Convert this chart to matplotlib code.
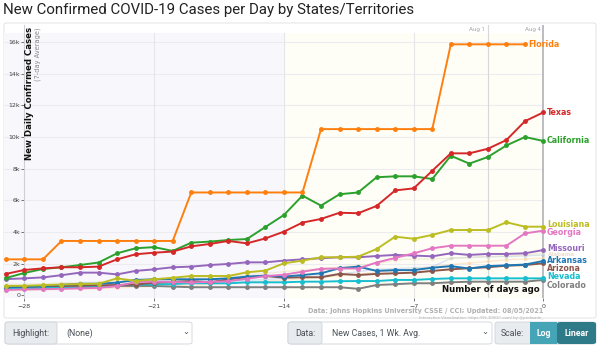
import numpy as np
import matplotlib.pyplot as plt
from matplotlib.patches import FancyBboxPatch, Rectangle

# days ago, -29 .. 0
days = list(range(-29, 1))

florida = [2280, 2280, 2280, 3440, 3440, 3440, 3440, 3440, 3440, 3440,
           6500, 6500, 6500, 6500, 6500, 6500, 6500, 10500, 10500, 10500,
           10500, 10500, 10500, 10500, 15850, 15850, 15850, 15850, 15850, np.nan]
texas = [1360, 1610, 1710, 1780, 1780, 1820, 2280, 2600, 2700, 2770,
         3100, 3250, 3440, 3290, 3600, 4030, 4600, 4830, 5220, 5190,
         5650, 6630, 6760, 7870, 8970, 8970, 9260, 9810, 11000, 11560]
california = [1100, 1420, 1670, 1780, 1920, 2080, 2660, 2980, 3050, 2810,
              3330, 3400, 3500, 3560, 4320, 5080, 6300, 5670, 6390, 6500,
              7460, 7520, 7520, 7350, 8820, 8320, 8740, 9470, 10000, 9750]
louisiana = [600, 610, 650, 690, 720, 740, 1080, 920, 1020, 1120,
             1230, 1230, 1230, 1460, 1570, 2030, 2200, 2410, 2410, 2450,
             2930, 3710, 3580, 3820, 4130, 4130, 4130, 4620, 4340, 4340]
georgia = [350, 380, 400, 420, 450, 480, 600, 850, 870, 850,
           820, 860, 900, 1050, 1220, 1310, 1500, 1680, 1700, 1700,
           2080, 2370, 2660, 2980, 3140, 3140, 3140, 3140, 3920, 4090]
missouri = [1030, 1080, 1140, 1280, 1440, 1440, 1330, 1550, 1650, 1780,
            1820, 1920, 1990, 2090, 2090, 2200, 2280, 2350, 2410, 2410,
            2490, 2560, 2520, 2470, 2660, 2560, 2620, 2620, 2660, 2870]
arkansas = [520, 540, 600, 670, 740, 740, 810, 980, 1020, 1020,
            1020, 1020, 1080, 1190, 1250, 1190, 1290, 1400, 1720, 1820,
            1550, 1600, 1600, 1750, 1850, 1700, 1850, 1900, 1950, 2180]
arizona = [560, 560, 580, 600, 620, 640, 660, 690, 810, 860,
           910, 830, 1020, 1150, 1230, 1120, 1150, 1150, 1360, 1290,
           1360, 1400, 1440, 1550, 1650, 1720, 1780, 1880, 1920, 2030]
nevada = [420, 450, 470, 500, 520, 550, 650, 680, 700, 720,
          770, 770, 770, 830, 830, 830, 870, 870, 900, 910,
          910, 980, 980, 1040, 1080, 1080, 1080, 1080, 1080, 1080]
colorado = [450, 500, 500, 510, 510, 510, 600, 600, 600, 560,
            520, 520, 520, 520, 520, 520, 520, 520, 520, 420,
            660, 710, 770, 770, 830, 870, 870, 870, 870, 980]

# faded background states
alabama = [300, 320, 350, 380, 400, 420, 480, 520, 560, 600,
           650, 700, 760, 820, 900, 980, 1050, 1150, 1250, 1350,
           1450, 1550, 1650, 1800, 1950, 2050, 2150, 2250, 2300, 2350]
faint_blue = [450, 470, 500, 520, 560, 600, 650, 700, 750, 780,
              800, 850, 900, 950, 1000, 1100, 1150, 1250, 1350, 1500,
              1650, 1700, 1750, 1800, 2350, 2400, 2450, 2450, 2500, 2550]
faint_tan = [700, 720, 750, 800, 820, 850, 900, 950, 1000, 1050,
             1100, 1150, 1200, 1300, 1400, 1500, 1600, 1700, 1800, 1900,
             2000, 2250, 2300, 2300, 2350, 2400, 2450, 2500, 2550, 2650]

states = ["Florida", "Texas", "California", "Louisiana", "Georgia", "Missouri",
          "Arkansas", "Arizona", "Nevada", "Colorado"]
series = [florida, texas, california, louisiana, georgia, missouri,
          arkansas, arizona, nevada, colorado]
colors = ["#ff7f0e", "#d62728", "#2ca02c", "#bcbd22", "#e377c2", "#9467bd",
          "#1f77b4", "#8c564b", "#17becf", "#7f7f7f"]
# where the end labels sit (nudged apart like the original)
label_y = [15850, 11560, 9800, 4460, 3980, 2940, 2230, 1700, 1180, 650]

fig = plt.figure(figsize=(6, 3.47), dpi=100)
W, H = 600, 347

def fx(px):
    return px / W

def fy(py):
    return 1 - py / H

# card border (behind the axes)
fig.patches.append(FancyBboxPatch((fx(4), fy(318)), fx(592), 295 / H,
                                  boxstyle="round,pad=0,rounding_size=0.005",
                                  transform=fig.transFigure, fc="white",
                                  ec="#e6e6e6", lw=0.8, zorder=-5))

fig.text(fx(3), fy(10), "New Confirmed COVID-19 Cases per Day by States/Territories",
         fontsize=10.8, family="Roboto", color="#222222", va="center", ha="left")

ax = fig.add_axes([fx(4), fy(298), fx(539.5), (298 - 25) / H])
ax.set_zorder(2)
ax.set_xlim(-29.1, 0)
ax.set_ylim(-160, 17070)
ax.set_facecolor("none")

# backgrounds: older part bluish, last two weeks yellowish
top_frac = (298 - 33) / 273
ax.axvspan(-29.1, -14, ymin=0, ymax=top_frac, color="#f8f8fc", zorder=0, lw=0)
ax.axvspan(-14, 0, ymin=0, ymax=top_frac, color="#fefef6", zorder=0, lw=0)

for yv in range(2000, 17000, 2000):
    ax.axhline(yv, color="#ececf0", lw=0.8, zorder=1)
for xv in [-21, -14, -7]:
    ax.axvline(xv, ymax=top_frac, color="#e6e6ea", lw=0.8, zorder=1)
ax.axvline(-3, color="#d8d8d8", lw=0.8, zorder=1)
ax.axvline(0, color="#b0b0b8", lw=1.2, zorder=1)
ax.text(-3.15, 16800, "Aug 1", fontsize=4.5, color="#aaaaaa", ha="right", va="center",
        family="Roboto")
ax.text(-0.15, 16800, "Aug 4", fontsize=4.5, color="#aaaaaa", ha="right", va="center",
        family="Roboto")

# faded lines
for vals, c in [(faint_blue, "#aec7e8"), (faint_tan, "#e7dcb8"), (alabama, "#ffcfa0")]:
    ax.plot(days, vals, color=c, lw=1.0, marker="o", ms=1.6, alpha=0.45, zorder=2,
            clip_on=False)
ax.annotate("Alabama", xy=(0, 2580), xytext=(3, 0), textcoords="offset points",
            fontsize=4.0, color="#f0dccf", fontweight="bold", va="center",
            annotation_clip=False)

order = list(range(len(states)))[::-1]
for i in order:
    ax.plot(days, series[i], color=colors[i], lw=1.4, marker="o", ms=2.5,
            zorder=3 + (len(states) - i) * 0.01, clip_on=False)

for name, vals, c, ly in zip(states, series, colors, label_y):
    last = max(d for d, v in zip(days, vals) if not np.isnan(v))
    ax.annotate(name, xy=(last, ly), xytext=(2.5, 0), textcoords="offset points",
                fontsize=5.7, color=c, fontweight="bold", va="center",
                annotation_clip=False)

ax.text(-0.2, 350, "Number of days ago", fontsize=6.2, fontweight="bold",
        color="#111111", ha="right", va="center")

# y label, drawn inside
ax.text(-27.75, 16950, "New Daily Confirmed Cases", rotation=90, fontsize=6.2,
        fontweight="bold", color="#111111", ha="center", va="top")
ax.text(-27.3, 16950, "(7-day Average)", rotation=90, fontsize=4.8,
        color="#888888", ha="center", va="top")

ax.set_yticks(range(0, 17000, 2000))
ax.set_yticklabels(["0"] + ["%dk" % (v // 1000) for v in range(2000, 17000, 2000)])
ax.set_xticks([-28, -21, -14, -7, 0])
ax.tick_params(axis="both", labelsize=4.5, colors="#444444", length=2, width=0.5)
ax.tick_params(axis="y", pad=1)
ax.tick_params(axis="x", pad=2)
ax.spines["left"].set_position(("data", -28))
ax.spines["left"].set_color("#cfcfd6")
for s in ["top", "right", "bottom"]:
    ax.spines[s].set_visible(False)
ax.grid(False)

fig.text(fx(543), fy(311), "Data: Johns Hopkins University CSSE / CCI; Updated: 08/05/2021",
         fontsize=4.7, color="#b0b0b0", fontweight="bold", ha="right", va="center")
fig.text(fx(543), fy(318), "Interactive Visualization: https://91-DIVOC.com/ by @profwade_",
         fontsize=2.8, color="#b0b0b0", ha="right", va="center")

# bottom controls
def box(x0, x1, y0, y1, fc, ec="#ced4da"):
    fig.patches.append(FancyBboxPatch((fx(x0), fy(y1)), fx(x1 - x0), (y1 - y0) / H,
                                      boxstyle="round,pad=0,rounding_size=0.006",
                                      transform=fig.transFigure, fc=fc, ec=ec, lw=0.6))

box(5, 192, 322, 344, "white")
box(5, 57, 322, 344, "#e9ecef")
fig.text(fx(31), fy(333), "Highlight:", fontsize=6.3, color="#495057", ha="center",
         va="center", family="Roboto")
fig.text(fx(66), fy(333), "(None)", fontsize=6.3, color="#495057", ha="left",
         va="center", family="Roboto")
fig.text(fx(186), fy(332), "\u2304", fontsize=6, color="#495057", ha="center", va="center")

box(288, 492, 322, 344, "white")
box(288, 322, 322, 344, "#e9ecef")
fig.text(fx(305), fy(333), "Data:", fontsize=6.3, color="#495057", ha="center",
         va="center", family="Roboto")
fig.text(fx(332), fy(333), "New Cases, 1 Wk. Avg.", fontsize=6.3, color="#495057",
         ha="left", va="center", family="Roboto")
fig.text(fx(485), fy(332), "\u2304", fontsize=6, color="#495057", ha="center", va="center")

box(495, 596, 322, 344, "#e9ecef")
fig.patches.append(Rectangle((fx(530), fy(344)), fx(27), 22 / H, transform=fig.transFigure,
                             fc="#45a4b6", ec="none"))
fig.patches.append(FancyBboxPatch((fx(557), fy(344)), fx(39), 22 / H,
                                  boxstyle="round,pad=0,rounding_size=0.006",
                                  transform=fig.transFigure, fc="#2f7a88", ec="none"))
fig.text(fx(512), fy(333), "Scale:", fontsize=6.3, color="#495057", ha="center",
         va="center", family="Roboto")
fig.text(fx(543.5), fy(333), "Log", fontsize=6.3, color="white", ha="center",
         va="center", family="Roboto", fontweight="bold")
fig.text(fx(576.5), fy(333), "Linear", fontsize=6.3, color="white", ha="center",
         va="center", family="Roboto", fontweight="bold")

fig.savefig("out.png", dpi=100)
